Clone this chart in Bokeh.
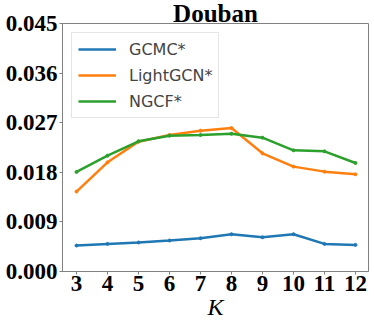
from bokeh.plotting import figure
from bokeh.models import FixedTicker, PrintfTickFormatter, Range1d, Legend, LegendItem
from bokeh.embed import file_html
from bokeh.resources import INLINE

k_values = [3, 4, 5, 6, 7, 8, 9, 10, 11, 12]
gcmc = [0.00471, 0.00501, 0.00526, 0.00562, 0.00604, 0.00677, 0.00622, 0.00677, 0.00501, 0.00483]
lightgcn = [0.01450, 0.01981, 0.02356, 0.02477, 0.02555, 0.02603, 0.02144, 0.01903, 0.01812, 0.01764]
ngcf = [0.01806, 0.02102, 0.02362, 0.02464, 0.02477, 0.02501, 0.02428, 0.02199, 0.02181, 0.01969]
series_names = ["GCMC*", "LightGCN*", "NGCF*"]
y_ticks = [0.0, 0.009, 0.018, 0.027, 0.036, 0.045]
title_text = "Douban"
x_label = "K"

colors = ["#1f77b4", "#ff7f0e", "#2ca02c"]

p = figure(width=374, height=324, output_backend="svg", toolbar_location=None,
           x_range=Range1d(2.548, 12.42), y_range=Range1d(0.0, 0.045),
           min_border_left=62, min_border_right=6, min_border_top=22, min_border_bottom=53,
           title=title_text)

p.title.align = "center"
p.title.text_font = "Liberation Serif"
p.title.text_font_style = "bold"
p.title.text_font_size = "25px"
p.title.text_color = "black"
p.title.standoff = -6
p.title.offset = 0

p.grid.visible = False
p.outline_line_color = "#808080"
p.outline_line_width = 1
p.background_fill_color = "white"
p.border_fill_color = "white"

items = []
for name, ys, c in zip(series_names, [gcmc, lightgcn, ngcf], colors):
    r1 = p.line(k_values, ys, line_color=c, line_width=2.5)
    p.scatter(k_values, ys, size=3, color=c)
    items.append(LegendItem(label=name, renderers=[r1]))

legend = Legend(items=items, location="top_left", margin=9, padding=6,
                spacing=6, glyph_width=38, glyph_height=20, label_height=20,
                label_standoff=13, label_text_font="DejaVu Sans",
                label_text_font_size="16px", border_line_color="#cccccc",
                border_line_width=1, background_fill_alpha=0.8)
p.add_layout(legend)

xa = p.xaxis[0]
xa.ticker = FixedTicker(ticks=k_values)
xa.major_label_text_font = "Liberation Serif"
xa.major_label_text_font_style = "bold"
xa.major_label_text_font_size = "23px"
xa.major_label_text_color = "black"
xa.major_label_standoff = 1
xa.axis_line_color = "#808080"
xa.major_tick_line_color = "#808080"
xa.major_tick_out = 3
xa.major_tick_in = 0
xa.minor_tick_line_color = None
xa.axis_label = x_label
xa.axis_label_text_font = "Liberation Serif"
xa.axis_label_text_font_style = "italic"
xa.axis_label_text_font_size = "24px"
xa.axis_label_text_color = "black"
xa.axis_label_standoff = 0

ya = p.yaxis[0]
ya.ticker = FixedTicker(ticks=y_ticks)
ya.formatter = PrintfTickFormatter(format="%.3f")
ya.major_label_text_font = "Liberation Serif"
ya.major_label_text_font_style = "bold"
ya.major_label_text_font_size = "23px"
ya.major_label_text_color = "black"
ya.major_label_standoff = 2
ya.axis_line_color = "#808080"
ya.major_tick_line_color = "#808080"
ya.major_tick_out = 3
ya.major_tick_in = 0
ya.minor_tick_line_color = None

open("out.html", "w").write(file_html(p, INLINE))
